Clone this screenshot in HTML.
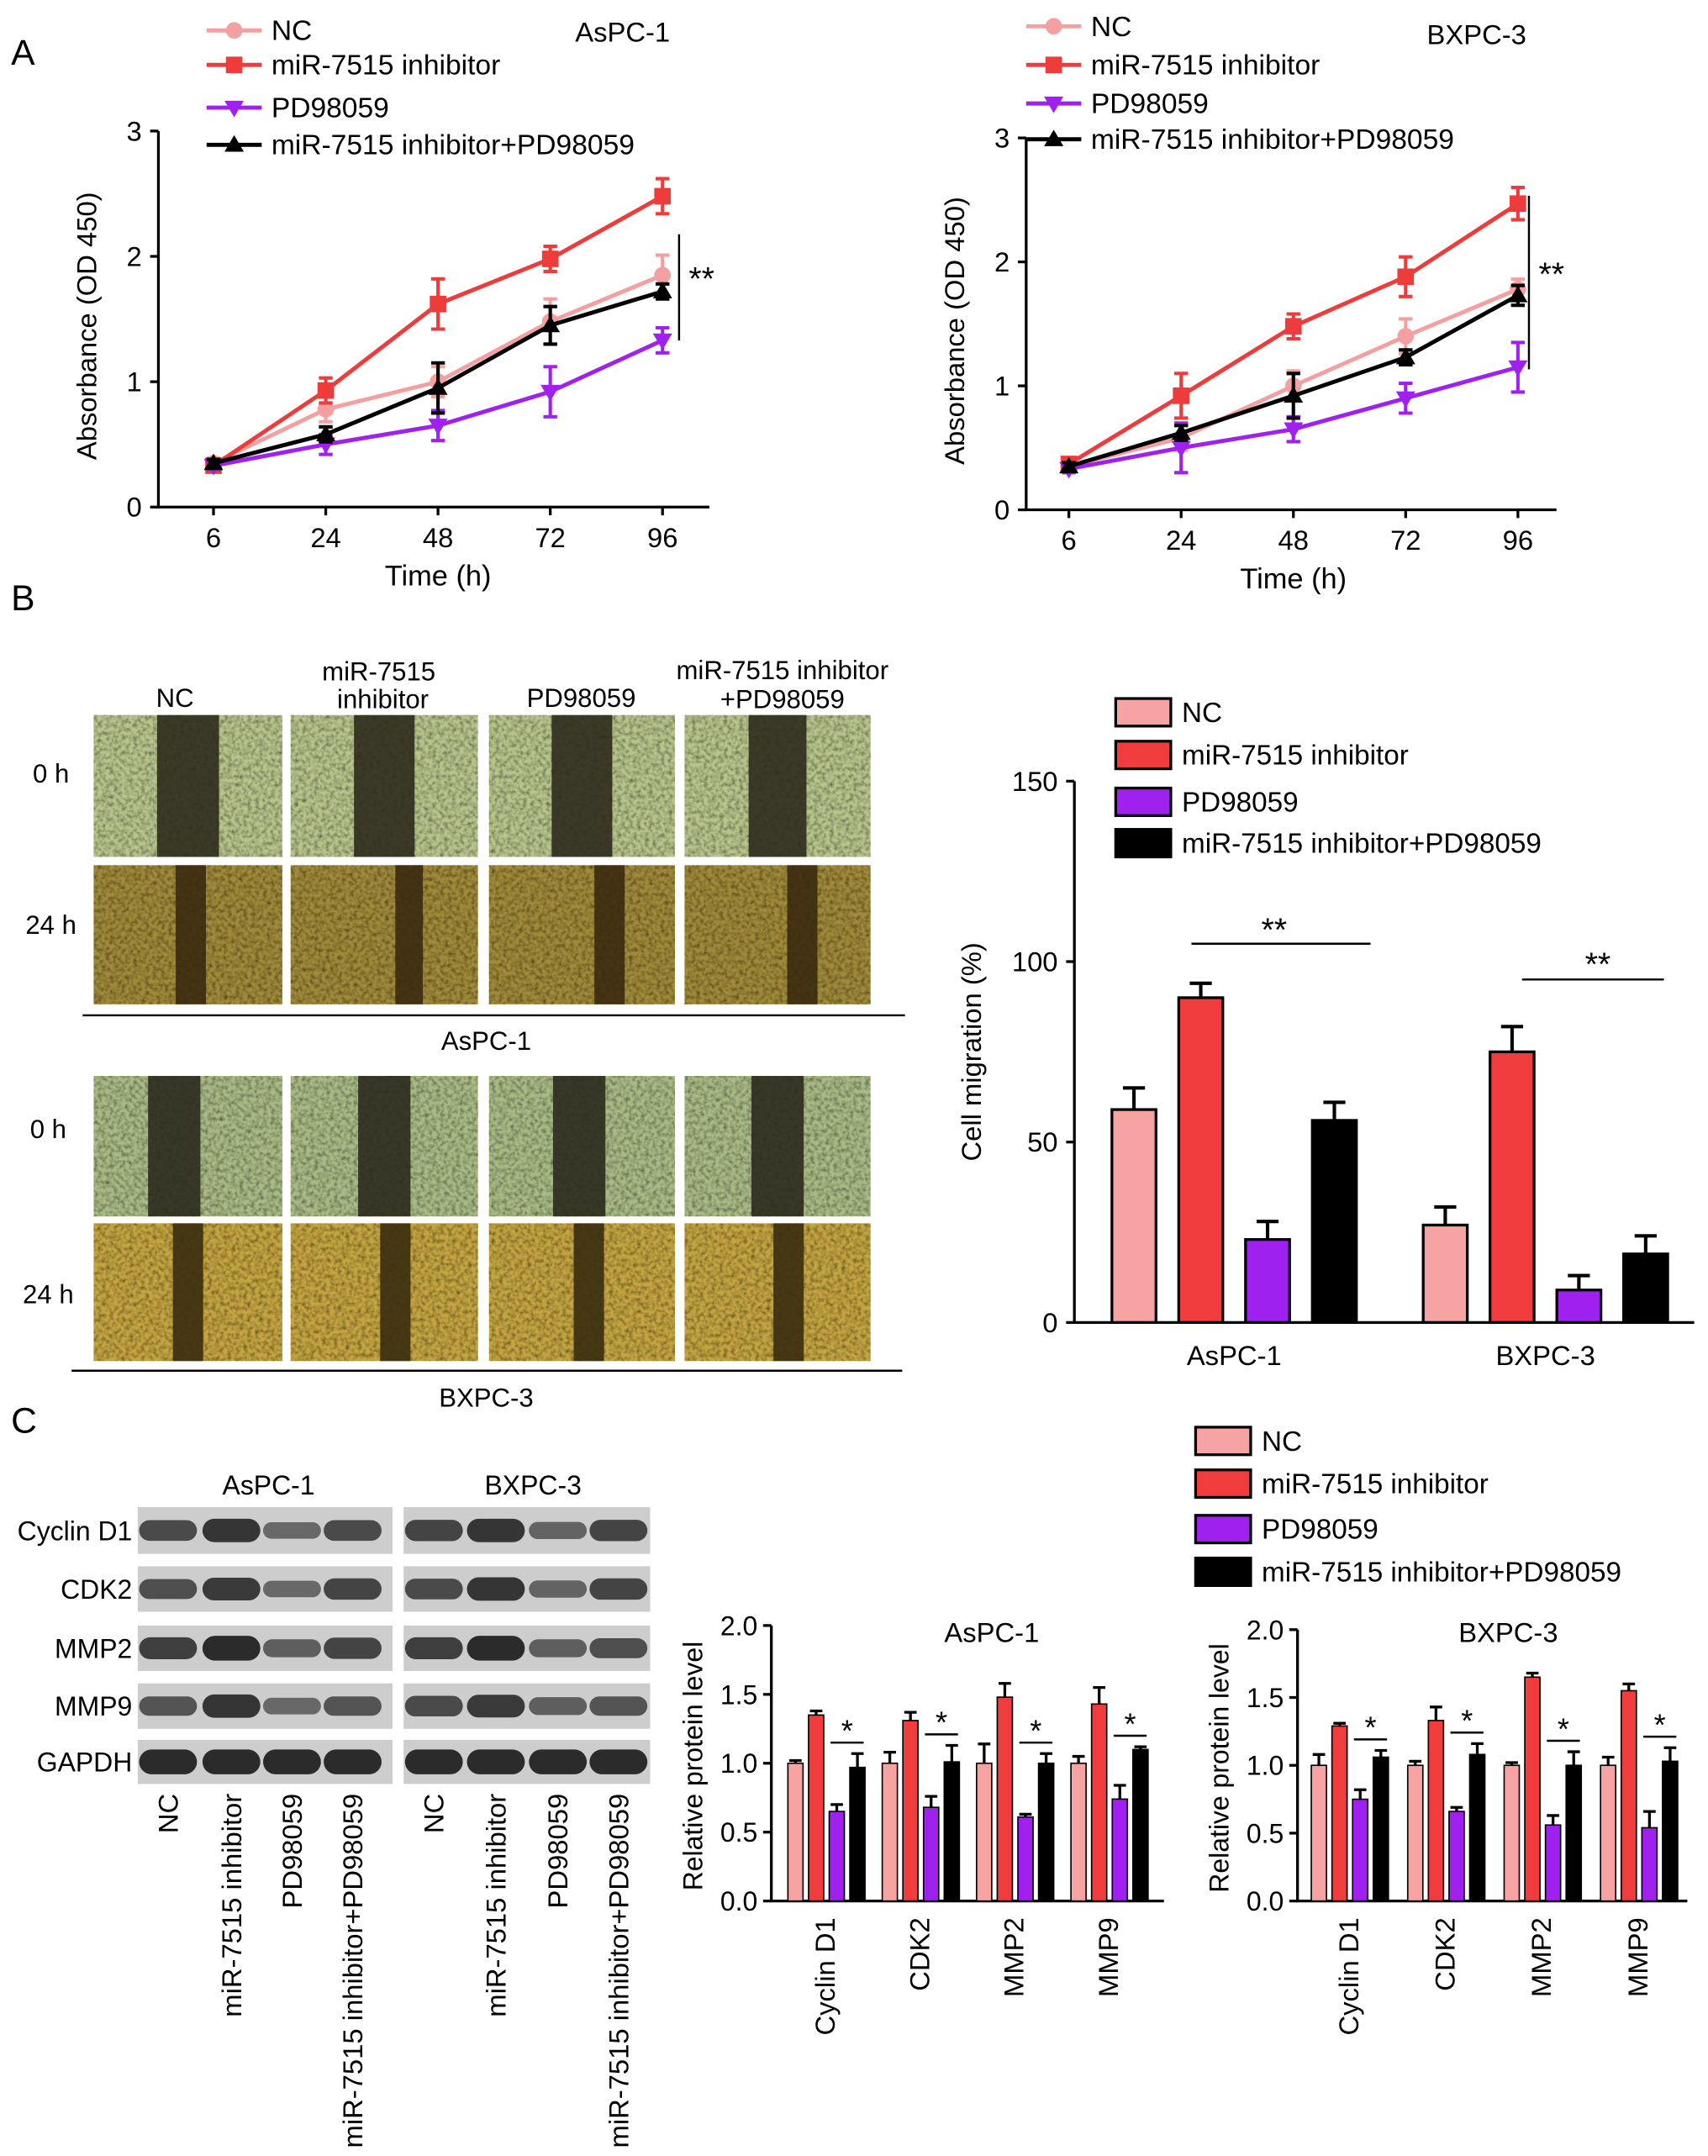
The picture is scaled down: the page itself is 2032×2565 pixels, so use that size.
<!DOCTYPE html>
<html><head><meta charset="utf-8"><style>
html,body{margin:0;padding:0;background:#fff}
svg{display:block;font-family:"Liberation Sans",Arial,sans-serif}
</style></head><body>
<svg id="fig" width="2032" height="2565" viewBox="0 0 1240 1565" xmlns="http://www.w3.org/2000/svg">
<rect width="1240" height="1565" fill="#fff"/>
<text x="8" y="47" font-size="26">A</text>
<text x="8" y="443" font-size="26">B</text>
<text x="8" y="1040" font-size="26">C</text>
<g id="g"></g>
</svg>
<script>
const NS="http://www.w3.org/2000/svg";
const G=document.getElementById('g');
function el(tag,attrs,parent,txt){const e=document.createElementNS(NS,tag);for(const k in attrs)e.setAttribute(k,attrs[k]);if(txt!==undefined)e.textContent=txt;(parent||G).appendChild(e);return e;}

// ---------- data ----------
const seriesNames=["NC","miR-7515 inhibitor","PD98059","miR-7515 inhibitor+PD98059"];
const lineColors=["#f4a0a0","#ee3b3b","#a020f0","#000000"];
const barColors=["#f7a3a3","#f03c3c","#a020f0","#000000"];
const timeLabels=["6","24","48","72","96"];
const aspcNC=[0.35,0.78,1.0,1.48,1.85];
const aspcInh=[0.33,0.93,1.62,1.98,2.48];
const aspcPD=[0.33,0.50,0.65,0.92,1.33];
const aspcCombo=[0.35,0.58,0.95,1.45,1.72];
const aspcErr=[[0.04,0.1,0.12,0.18,0.16],[0.04,0.1,0.2,0.1,0.14],[0.03,0.08,0.12,0.2,0.1],[0.03,0.06,0.2,0.15,0.06]];
const bxNC=[0.35,0.58,1.0,1.4,1.78];
const bxInh=[0.37,0.92,1.48,1.88,2.47];
const bxPD=[0.33,0.50,0.65,0.90,1.15];
const bxCombo=[0.35,0.62,0.92,1.23,1.73];
const bxErr=[[0.04,0.1,0.12,0.14,0.08],[0.04,0.18,0.1,0.16,0.13],[0.03,0.2,0.1,0.12,0.2],[0.03,0.06,0.18,0.06,0.08]];
const lineTicks=[0,1,2,3];
const migGroups=["AsPC-1","BXPC-3"];
const migAspc=[59,90,23,56];
const migAspcErr=[6,4,5,5];
const migBx=[27,75,9,19];
const migBxErr=[5,7,4,5];
const migTicks=[0,50,100,150];
const protCats=["Cyclin D1","CDK2","MMP2","MMP9"];
const protAspc=[[1.0,1.35,0.65,0.97],[1.0,1.31,0.68,1.01],[1.0,1.48,0.61,1.0],[1.0,1.43,0.74,1.1]];
const protAspcErr=[[0.02,0.03,0.05,0.1],[0.08,0.06,0.08,0.12],[0.14,0.1,0.02,0.07],[0.05,0.12,0.1,0.02]];
const protBx=[[1.0,1.29,0.75,1.06],[1.0,1.33,0.66,1.08],[1.0,1.65,0.56,1.0],[1.0,1.55,0.54,1.03]];
const protBxErr=[[0.08,0.02,0.07,0.05],[0.03,0.1,0.03,0.08],[0.02,0.03,0.07,0.1],[0.06,0.05,0.12,0.1]];
const protTicks=[0,0.5,1.0,1.5,2.0];

// ---------- line charts ----------
function markerShape(i,x,y,c,parent){
  if(i===0)return el('circle',{cx:x,cy:y,r:6,fill:c},parent);
  if(i===1)return el('rect',{x:x-6,y:y-6,width:12,height:12,fill:c},parent);
  if(i===2)return el('polygon',{points:`${x-7},${y-5} ${x+7},${y-5} ${x},${y+7}`,fill:c},parent);
  return el('polygon',{points:`${x-7},${y+5} ${x+7},${y+5} ${x},${y-7}`,fill:c},parent);
}
function lineChart(o){
  const g=el('g',{});
  
  
  const xs=i=>o.x0+i*(o.x1-o.x0)/(timeLabels.length-1);
  const ys=v=>o.yb-v*(o.yb-o.yt)/3;
  const ax=el('path',{d:`M${o.ax},${ys(3)} V${o.yb} H${o.axEnd}`,stroke:'#000','stroke-width':2,fill:'none'},g);
  
  lineTicks.forEach(t=>{el('line',{x1:o.ax-6,x2:o.ax,y1:ys(t),y2:ys(t),stroke:'#000','stroke-width':2},g);
    const tt=el('text',{x:o.ax-12,y:ys(t)+7,'font-size':20,'text-anchor':'end'},g,String(t));
    });
  timeLabels.forEach((l,i)=>{el('line',{x1:xs(i),x2:xs(i),y1:o.yb,y2:o.yb+6,stroke:'#000','stroke-width':2},g);
    const tt=el('text',{x:xs(i),y:o.yb+29,'font-size':20,'text-anchor':'middle'},g,l);
    });
  const xt=el('text',{x:(o.x0+o.x1)/2,y:o.yb+57,'font-size':21,'text-anchor':'middle'},g,'Time (h)');
  
  const yt=el('text',{x:0,y:0,'font-size':20,'text-anchor':'middle',transform:`translate(${o.ax-45},${(o.yb+ys(3))/2+5}) rotate(-90)`},g,'Absorbance (OD 450)');
  
  o.series.forEach((s,si)=>{
    const sg=el('g',{},g);
    
    
    el('polyline',{points:s.map((v,i)=>xs(i)+','+ys(v)).join(' '),fill:'none',stroke:lineColors[si],'stroke-width':3},sg);
    s.forEach((v,i)=>{const e=o.err[si][i];
      el('path',{d:`M${xs(i)},${ys(v-e)} V${ys(v+e)} M${xs(i)-5},${ys(v-e)} H${xs(i)+5} M${xs(i)-5},${ys(v+e)} H${xs(i)+5}`,stroke:lineColors[si],'stroke-width':2.5,fill:'none'},sg);
      markerShape(si,xs(i),ys(v),lineColors[si],sg);});
  });
  seriesNames.forEach((n,i)=>{const y=o.legY[i];
    const lg=el('g',{},g);
    el('line',{x1:o.legX,x2:o.legX+40,y1:y,y2:y,stroke:lineColors[i],'stroke-width':3},lg);
    markerShape(i,o.legX+20,y,lineColors[i],lg);
    el('text',{x:o.legX+47,y:y+7,'font-size':20.5},lg,n);});
  const ti=el('text',{x:o.titleX,y:o.titleY,'font-size':20,'text-anchor':'middle'},g,o.title);
  
  const sig=el('g',{},g);
  el('line',{x1:o.sigX,x2:o.sigX,y1:o.sigY1,y2:o.sigY2,stroke:'#000','stroke-width':1.5},sig);
  el('text',{x:o.sigX+7,y:(o.sigY1+o.sigY2)/2+2,'font-size':24},sig,'**');
}
lineChart({name:'aspc1-growth-chart',x0:155,x1:481,ax:115,axEnd:515,yb:368,yt:95,series:[aspcNC,aspcInh,aspcPD,aspcCombo],err:aspcErr,legX:150,legY:[22,47,78,105],title:'AsPC-1',titleX:452,titleY:30,sigX:493,sigY1:170,sigY2:247});
lineChart({name:'bxpc3-growth-chart',x0:776,x1:1102,ax:745,axEnd:1130,yb:370,yt:100,series:[bxNC,bxInh,bxPD,bxCombo],err:bxErr,legX:745,legY:[19,47,75,101],title:'BXPC-3',titleX:1072,titleY:32,sigX:1110,sigY1:142,sigY2:268});

// ---------- micrographs ----------
const defs=el('defs',{});
const f=el('filter',{id:'noise',x:0,y:0,width:'100%',height:'100%'},defs);
el('feTurbulence',{type:'fractalNoise',baseFrequency:0.35,numOctaves:2,seed:3,result:'n'},f);
el('feColorMatrix',{type:'matrix',values:'0 0 0 0 0  0 0 0 0 0  0 0 0 0 0  0 0 0 1.4 -0.5',in:'n',result:'a'},f);
el('feComposite',{in:'a',in2:'SourceGraphic',operator:'in',result:'b'},f);
el('feMerge',{},f);
const fm=f.lastChild;el('feMergeNode',{in:'SourceGraphic'},fm);el('feMergeNode',{in:'b'},fm);
const cols=[[68,205],[211,347],[355,490],[497,632]];
const rows=[{y:519,h:103,bg:'#b8c48c',band:'#2e2a1c',w:[45,44,44,42],shift:[0,0,0,0],name:'aspc1-0h'},
            {y:628,h:101,bg:'#a08a3a',band:'#3a2a10',w:[22,20,22,22],shift:[2,18,20,18],name:'aspc1-24h'},
            {y:781,h:102,bg:'#a9bb85',band:'#2b2a1e',w:[38,38,38,38],shift:[-10,0,-2,0],name:'bxpc3-0h'},
            {y:888,h:100,bg:'#c4a542',band:'#3a2c10',w:[22,22,22,22],shift:[0,8,5,8],name:'bxpc3-24h'}];
rows.forEach(r=>cols.forEach((c,ci)=>{
  const g=el('g',{});
  
  
  el('rect',{x:c[0],y:r.y,width:c[1]-c[0],height:r.h,fill:r.bg,filter:'url(#noise)'},g);
  const bx=(c[0]+c[1])/2-r.w[ci]/2+r.shift[ci];
  el('rect',{x:bx,y:r.y,width:r.w[ci],height:r.h,fill:r.band,opacity:0.9},g);
}));
[[127,507,'NC'],[275,488,'miR-7515'],[278,508,'inhibitor'],[422,507,'PD98059'],[568,487,'miR-7515 inhibitor'],[568,508,'+PD98059']].forEach(t=>{
  const e=el('text',{x:t[0],y:t[1]+6,'font-size':19,'text-anchor':'middle'},G,t[2]);
  });
[[37,562,'0 h'],[37,672,'24 h'],[35,820,'0 h'],[35,940,'24 h']].forEach(t=>{
  const e=el('text',{x:t[0],y:t[1]+6,'font-size':19,'text-anchor':'middle'},G,t[2]);
  });
el('line',{x1:60,x2:657,y1:737,y2:737,stroke:'#000','stroke-width':1.5});
el('line',{x1:52,x2:655,y1:995,y2:995,stroke:'#000','stroke-width':1.5});
let t1=el('text',{x:353,y:762,'font-size':19,'text-anchor':'middle'},G,'AsPC-1');
let t2=el('text',{x:353,y:1021,'font-size':19,'text-anchor':'middle'},G,'BXPC-3');

// ---------- legends for bar charts ----------
function barLegend(x,ys){seriesNames.forEach((n,i)=>{
  const g=el('g',{});
  el('rect',{x:x,y:ys[i]-10,width:40,height:20,fill:barColors[i],stroke:'#000','stroke-width':2},g);
  el('text',{x:x+48,y:ys[i]+7,'font-size':20.3},g,n);});}
barLegend(810,[517,548,582,612]);
barLegend(868,[1046,1077,1110,1141]);

// ---------- migration bar chart ----------
(function(){
  const g=el('g',{});
  const yb=960,yt=567,ax=780;
  const ys=v=>yb-v*(yb-yt)/150;
  el('path',{d:`M${ax},${yt} V${yb} H1230`,stroke:'#000','stroke-width':2,fill:'none'},g);
  migTicks.forEach(t=>{el('line',{x1:ax-6,x2:ax,y1:ys(t),y2:ys(t),stroke:'#000','stroke-width':2},g);
    const e=el('text',{x:ax-12,y:ys(t)+7,'font-size':20,'text-anchor':'end'},g,String(t));
    });
  const yt2=el('text',{x:0,y:0,'font-size':20,'text-anchor':'middle',transform:`translate(712,${(yb+yt)/2}) rotate(-90)`},g,'Cell migration (%)');
  
  const centers=[896,1122];
  [migAspc,migBx].forEach((vals,gi)=>{
    const errs=gi===0?migAspcErr:migBxErr;
    vals.forEach((v,i)=>{
      const x=centers[gi]+(i-1.5)*48.5-16;
      const b=el('rect',{x:x,y:ys(v),width:32,height:yb-ys(v),fill:barColors[i],stroke:'#000','stroke-width':2},g);
      
      el('path',{d:`M${x+16},${ys(v)} V${ys(v+errs[i])} M${x+8},${ys(v+errs[i])} H${x+24}`,stroke:'#000','stroke-width':2.5,fill:'none'},g);
    });
    const e=el('text',{x:centers[gi],y:yb+31,'font-size':20,'text-anchor':'middle'},g,migGroups[gi]);
    
  });
  el('line',{x1:865,x2:995,y1:685,y2:685,stroke:'#000','stroke-width':1.5},g);
  el('text',{x:925,y:683,'font-size':24,'text-anchor':'middle'},g,'**');
  el('line',{x1:1105,x2:1208,y1:711,y2:711,stroke:'#000','stroke-width':1.5},g);
  el('text',{x:1160,y:708,'font-size':24,'text-anchor':'middle'},g,'**');
})();

// ---------- western blot ----------
const blotRows=[["Cyclin D1",1094,1128],["CDK2",1137,1170],["MMP2",1180,1213],["MMP9",1222,1255],["GAPDH",1263,1295]];
const blotIntensity=[[0.7,0.9,0.4,0.7],[0.65,0.85,0.4,0.75],[0.8,1.0,0.5,0.75],[0.6,0.9,0.4,0.6],[1,1,1,1]];
const blotIntB=[[0.75,0.9,0.45,0.75],[0.7,0.9,0.45,0.75],[0.8,1.0,0.5,0.65],[0.7,0.85,0.5,0.6],[1,1,1,1]];
[[100,285,blotIntensity,[122,168,212,256]],[293,472,blotIntB,[315,360,405,449]]].forEach((bl,bi)=>{
  const g=el('g',{});
  blotRows.forEach((r,ri)=>{
    el('rect',{x:bl[0],y:r[1],width:bl[1]-bl[0],height:r[2]-r[1],fill:'#cdcdcd'},g);
    bl[3].forEach((lx,li)=>{const k=bl[2][ri][li];const h=4+5*k;
      el('rect',{x:lx-21,y:(r[1]+r[2])/2-h,width:42,height:2*h,rx:h,fill:'#222',opacity:0.35+0.6*k},g);});
  });
  ["NC","miR-7515 inhibitor","PD98059","miR-7515 inhibitor+PD98059"].forEach((n,li)=>{
    const e=el('text',{x:0,y:0,'font-size':20,'text-anchor':'end',transform:`translate(${bl[3][li]+7},1302) rotate(-90)`},g,n);
    });
});
blotRows.forEach(r=>{const e=el('text',{x:96,y:(r[1]+r[2])/2+7,'font-size':19.5,'text-anchor':'end'},G,r[0]);
  });
let t3=el('text',{x:195,y:1085,'font-size':19.5,'text-anchor':'middle'},G,'AsPC-1');
let t4=el('text',{x:387,y:1085,'font-size':19.5,'text-anchor':'middle'},G,'BXPC-3');

// ---------- protein bar charts ----------
function protChart(o){
  const g=el('g',{});
  const yb=1380,yt=o.yt;
  const ys=v=>yb-v*(yb-yt)/2;
  el('path',{d:`M${o.ax},${yt} V${yb} H${o.axEnd}`,stroke:'#000','stroke-width':2,fill:'none'},g);
  protTicks.forEach(t=>{el('line',{x1:o.ax-6,x2:o.ax,y1:ys(t),y2:ys(t),stroke:'#000','stroke-width':2},g);
    const e=el('text',{x:o.ax-10,y:ys(t)+7,'font-size':19.5,'text-anchor':'end'},g,t.toFixed(1));
    });
  const yt2=el('text',{x:0,y:0,'font-size':19.5,'text-anchor':'middle',transform:`translate(${o.ax-50},${(yb+yt)/2+2}) rotate(-90)`},g,'Relative protein level');
  
  protCats.forEach((c,ci)=>{
    const cx=o.c0+ci*o.step;
    o.vals[ci].forEach((v,i)=>{
      const x=cx+(i-1.5)*15-5.5;const e=o.err[ci][i];
      const b=el('rect',{x:x,y:ys(v),width:11,height:yb-ys(v),fill:barColors[i],stroke:'#000','stroke-width':1},g);
      
      el('path',{d:`M${x+5.5},${ys(v)} V${ys(v+e)} M${x+1},${ys(v+e)} H${x+10}`,stroke:'#000','stroke-width':2,fill:'none'},g);
    });
    const top=Math.max(o.vals[ci][2]+o.err[ci][2],o.vals[ci][3]+o.err[ci][3]);
    el('line',{x1:cx+3,x2:cx+27,y1:ys(top)-8,y2:ys(top)-8,stroke:'#000','stroke-width':1.5},g);
    el('text',{x:cx+15,y:ys(top)-9,'font-size':22,'text-anchor':'middle'},g,'*');
    const e=el('text',{x:0,y:0,'font-size':20,'text-anchor':'end',transform:`translate(${cx+6},1392) rotate(-90)`},g,c);
    
  });
  const ti=el('text',{x:o.titleX,y:1192,'font-size':20,'text-anchor':'middle'},g,o.title);
  
}
protChart({name:'aspc1-protein-chart',ax:560,axEnd:845,yt:1180,c0:600,step:68.5,vals:protAspc,err:protAspcErr,title:'AsPC-1',titleX:720});
protChart({name:'bxpc3-protein-chart',ax:942,axEnd:1225,yt:1183,c0:980,step:70,vals:protBx,err:protBxErr,title:'BXPC-3',titleX:1095});
</script>
</body></html>
